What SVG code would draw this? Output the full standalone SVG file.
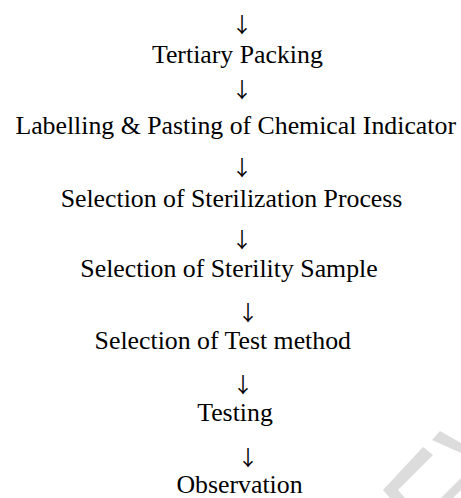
<svg xmlns="http://www.w3.org/2000/svg" width="461" height="498" viewBox="0 0 461 498">
<style>
.t{font-family:"Liberation Serif","Times New Roman",serif;font-size:25.8px;fill:#000;text-anchor:middle}
.a{font-family:"Noto Sans CJK JP",sans-serif;font-size:21px;fill:#000;text-anchor:middle}
.wm{fill:#dcdcdc}
</style>
<rect width="461" height="498" fill="#fff"/>
<g id="watermark">
<polygon class="wm" points="440,431 461,443 461,453 432,440"/>
<polygon class="wm" points="423,447 433,455 398,490 405,498 390,498 383,490"/>
<polygon class="wm" points="461,478 461,490 453,498 441,498"/>
</g>
<g id="connectors">
<text class="a" x="242" y="32">↓</text>
<text class="a" x="242" y="97">↓</text>
<text class="a" x="242" y="175">↓</text>
<text class="a" x="242" y="247">↓</text>
<text class="a" x="248" y="320">↓</text>
<text class="a" x="243" y="392">↓</text>
<text class="a" x="248" y="465">↓</text>
</g>
<g id="n1"><text class="t" x="237.4" y="63">Tertiary Packing</text></g>
<g id="n2"><text class="t" x="235.7" y="134">Labelling &amp; Pasting of Chemical Indicator</text></g>
<g id="n3"><text class="t" x="231.5" y="206.5">Selection of Sterilization Process</text></g>
<g id="n4"><text class="t" x="229" y="277">Selection of Sterility Sample</text></g>
<g id="n5"><text class="t" x="222.8" y="348.5">Selection of Test method</text></g>
<g id="n6"><text class="t" x="235" y="421">Testing</text></g>
<g id="n7"><text class="t" x="239.5" y="493">Observation</text></g>
</svg>
